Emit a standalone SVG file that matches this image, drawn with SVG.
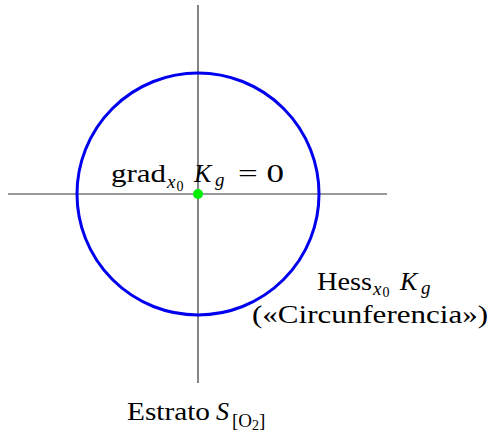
<svg xmlns="http://www.w3.org/2000/svg" width="491" height="436" viewBox="0 0 491 436">
<style>
.ax{stroke:#333;stroke-width:1.2;fill:none}
.t{font-family:"Liberation Serif","DejaVu Serif",serif;font-size:26px;fill:#000}
.i{font-style:italic}
.s{font-size:19px}
.ss{font-size:14px;font-style:normal}
</style>
<rect width="491" height="436" fill="#fff"/>
<g id="connectors">
<line class="ax" x1="198" y1="5" x2="198" y2="383"/>
<line class="ax" x1="8" y1="194" x2="387" y2="194"/>
</g>
<g id="circle">
<circle cx="198" cy="194" r="121" fill="none" stroke="#0000ee" stroke-width="3"/>
</g>
<g id="point">
<circle cx="198" cy="194" r="5" fill="#00ee00"/>
<text class="t" x="111" y="182" textLength="55" lengthAdjust="spacingAndGlyphs">grad</text>
<text class="t i s" x="167" y="188">x<tspan class="ss" dx="1" dy="3">0</tspan></text>
<text class="t i" x="194" y="182">K</text>
<text class="t i s" x="215" y="186">g</text>
<text class="t" x="238" y="182" textLength="46" lengthAdjust="spacingAndGlyphs">= 0</text>
</g>
<g id="hess">
<text class="t" x="317" y="290" textLength="55" lengthAdjust="spacingAndGlyphs">Hess</text>
<text class="t i s" x="373" y="295">x<tspan class="ss" dx="1" dy="2">0</tspan></text>
<text class="t i" x="400" y="290">K</text>
<text class="t i s" x="421" y="294">g</text>
<text class="t" x="252" y="323" font-size="25" textLength="236" lengthAdjust="spacingAndGlyphs">(«Circunferencia»)</text>
</g>
<g id="estrato">
<text class="t" x="127" y="420" textLength="83" lengthAdjust="spacingAndGlyphs">Estrato</text>
<text class="t i" x="216" y="420">S</text>
<text class="t s" x="232" y="427">[O<tspan class="ss" dy="3">2</tspan><tspan dy="-3">]</tspan></text>
</g>
</svg>
